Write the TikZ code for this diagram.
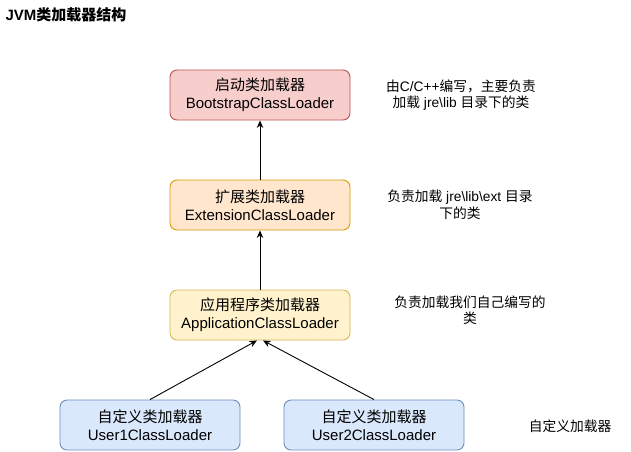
\documentclass[tikz,border=0pt]{standalone}
\usepackage{fontspec}
\setmainfont{Liberation Sans}
\newfontfamily\cjk{Noto Sans CJK SC}
\usetikzlibrary{arrows.meta}
\definecolor{bootfill}{HTML}{F8CECC}
\definecolor{bootline}{HTML}{B85450}
\definecolor{extfill}{HTML}{FFE6CC}
\definecolor{extline}{HTML}{D79B00}
\definecolor{appfill}{HTML}{FFF2CC}
\definecolor{appline}{HTML}{D6B656}
\definecolor{userfill}{HTML}{DAE8FC}
\definecolor{userline}{HTML}{6C8EBF}
\begin{document}
\begin{tikzpicture}[x = 1pt,y = -1pt,
        loader/.style = {draw,rounded corners = 7pt,line width = 0.9pt,minimum width = 180pt,minimum height = 50pt,
            align = center,font = \fontsize{15}{18}\selectfont},
        note/.style = {align = center,font = \fontsize{13.75}{16.5}\selectfont},
        parent/.style = {-{Stealth[length = 7.5pt,width = 6.5pt]},line width = 0.9pt}]
        \useasboundingbox (0,0) rectangle (631,451);
        \node (title) [anchor = west,font = \fontsize{15}{18}\selectfont\bfseries] at (2,15) {JVM{\cjk 类加载器结构}};
        % loaders
        \node (boot)  [loader,fill = bootfill,draw = bootline] at (260,95)  {{\cjk 启动类加载器}\\BootstrapClassLoader};
        \node (ext)   [loader,fill = extfill,draw = extline]   at (260,205) {{\cjk 扩展类加载器}\\ExtensionClassLoader};
        \node (app)   [loader,fill = appfill,draw = appline]   at (260,315) {{\cjk 应用程序类加载器}\\ApplicationClassLoader};
        \node (user1) [loader,fill = userfill,draw = userline] at (150,425) {{\cjk 自定义类加载器}\\User1ClassLoader};
        \node (user2) [loader,fill = userfill,draw = userline] at (374,425) {{\cjk 自定义类加载器}\\User2ClassLoader};
        % notes
        \node (bootnote)  [note] at (461,95)  {{\cjk 由}C/C++{\cjk 编写，主要负责}\\{\cjk 加载} jre\textbackslash lib {\cjk 目录下的类}};
        \node (extnote)   [note] at (460,205) {{\cjk 负责加载} jre\textbackslash lib\textbackslash ext {\cjk 目录}\\{\cjk 下的类}};
        \node (appnote)   [note] at (470,310) {{\cjk 负责加载我们自己编写的}\\{\cjk 类}};
        \node (usernote)  [note] at (570,426) {{\cjk 自定义加载器}};
        % parents
        \draw [parent] (ext.north) -- (boot.south);
        \draw [parent] (app.north) -- (ext.south);
        \draw [parent] (user1.north) -- ([xshift = -3pt]app.south);
        \draw [parent] (user2.north) -- ([xshift = 3pt]app.south);
    \end{tikzpicture}
\end{document}
